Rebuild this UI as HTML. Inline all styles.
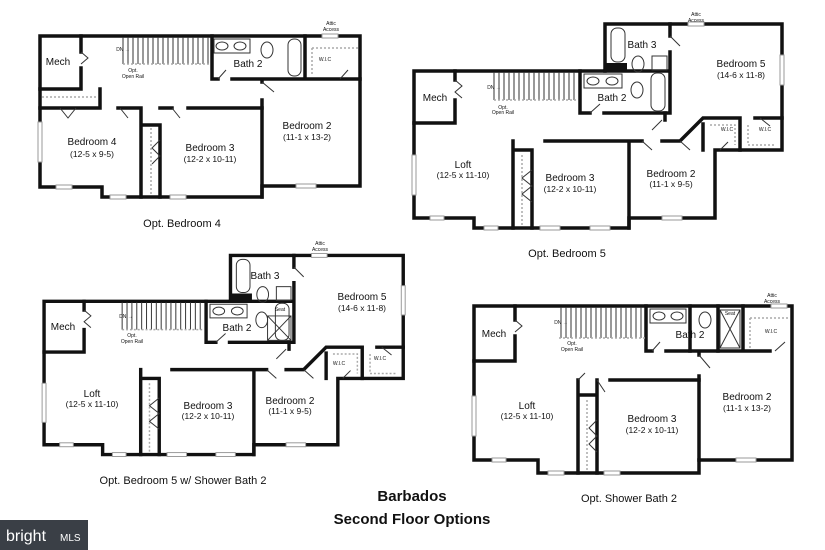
<!DOCTYPE html>
<html><head><meta charset="utf-8"><style>
html,body{margin:0;padding:0;background:#fff}
svg{display:block}
text{font-family:"Liberation Sans",sans-serif;fill:#111}
.w{fill:none;stroke:#111;stroke-width:3.5;stroke-linecap:square}
.t{fill:none;stroke:#333;stroke-width:1}
.g{fill:none;stroke:#aaa;stroke-width:1.5;stroke-dasharray:2 2}
.win{fill:#fff;stroke:#999;stroke-width:1}
.r{font-size:10px;text-anchor:middle}
.s{font-size:8.5px;text-anchor:middle}
.x{font-size:5px;text-anchor:middle}
</style></head><body>
<svg width="825" height="550" viewBox="0 0 825 550" xmlns="http://www.w3.org/2000/svg">
<defs>
<g id="stairs2">
<path class="t" d="M494,72 V100 M499,72V100 M504,72V100 M509,72V100 M514,72V100 M519,72V100 M524,72V100 M529,72V100 M534,72V100 M539,72V100 M544,72V100 M549,72V100 M554,72V100 M559,72V100 M564,72V100 M569,72V100 M574,72V100"/>
<path class="g" d="M494,100 H578"/>
</g>
<g id="plan2">
<path class="w" d="M414,218 V71 H605 V24 H782 V150 H715 V218 H629 V228 H474 V218 Z"/>
<path class="w" d="M580,71 V113 H590 M604,113 H670 V52 M670,24 V36 M605,71 H670"/>
<rect x="605" y="63" width="22" height="8" fill="#111"/>
<path class="w" d="M455,71 V80 M455,100 V123 H414"/>
<path class="w" d="M513,141 V228 M532,150 V228 M513,150 H532 M545,141 H629 V228 M629,141 H642 M662,141 H680 L703,118 H740 M755,118 H782 M740,118 V150 M703,124 V150 M665,113 V120"/>
<path class="g" d="M710,125 H735 V145 M748,125 V145 H775"/>
<path class="g" d="M522,155 V225"/>
<path class="t" d="M455,80 L462,86 L455,92 L462,98 M532,170 L522,178 L532,186 L522,194 L532,202 M590,113 L600,104 M642,141 L652,150 M662,120 L652,130 M680,141 L690,150 M720,150 L728,142 M760,118 L770,126 M670,36 L680,46"/>
<rect x="584" y="74" width="38" height="14" class="t"/>
<ellipse cx="593" cy="81" rx="6" ry="4" class="t"/><ellipse cx="612" cy="81" rx="6" ry="4" class="t"/>
<rect x="651" y="73" width="14" height="38" rx="6" class="t"/>
<rect x="611" y="28" width="14" height="34" rx="6" class="t"/>
<ellipse cx="638" cy="64" rx="6" ry="8" class="t"/>
<rect x="652" y="56" width="15" height="14" class="t"/>
<ellipse cx="637" cy="90" rx="6" ry="8" class="t"/>
<use href="#stairs2"/>
<rect x="412" y="155" width="4" height="40" class="win"/>
<rect x="780" y="55" width="4" height="30" class="win"/>
<rect x="430" y="216" width="14" height="4" class="win"/>
<rect x="484" y="226" width="14" height="4" class="win"/>
<rect x="540" y="226" width="20" height="4" class="win"/>
<rect x="590" y="226" width="20" height="4" class="win"/>
<rect x="662" y="216" width="20" height="4" class="win"/>
<rect x="688" y="22" width="16" height="4" class="win"/>
</g>
</defs>

<!-- Plan 1 -->
<path class="w" d="M40,36 H360 V186 H262 V197 H102 V187 H40 Z"/>
<path class="w" d="M212,36 V79 H218 M232,79 H305 V36 M305,79 H360 M262,79 V82 M262,100 V197"/>
<path class="w" d="M81,36 V52 M81,68 V89 H40 M40,108 H100 M100,89 V108 M118,108 H141 V197 M141,125 H160 V197 M160,108 H172 M188,108 H262"/>
<path class="g" d="M42,97 H98 M151,128 V195 M312,48 H358 M312,48 V76"/>
<path class="t" d="M81,52 L88,58 L81,64 M160,140 L152,148 L160,156 L152,164 M218,79 L226,70 M262,82 L274,92 M340,79 L348,70 M60,108 L68,118 L76,108 M120,108 L128,118 M172,108 L180,118"/>
<path class="t" d="M123,37 V64 M128,37V64 M133,37V64 M138,37V64 M143,37V64 M148,37V64 M153,37V64 M158,37V64 M163,37V64 M168,37V64 M173,37V64 M178,37V64 M183,37V64 M188,37V64 M193,37V64 M198,37V64 M203,37V64 M208,37V64"/>
<path class="g" d="M123,64 H210"/>
<rect x="214" y="39" width="36" height="14" class="t"/>
<ellipse cx="222" cy="46" rx="6" ry="4" class="t"/><ellipse cx="240" cy="46" rx="6" ry="4" class="t"/>
<ellipse cx="267" cy="50" rx="6" ry="8" class="t"/>
<rect x="288" y="39" width="13" height="37" rx="6" class="t"/>
<rect x="38" y="122" width="4" height="40" class="win"/>
<rect x="56" y="185" width="16" height="4" class="win"/>
<rect x="110" y="195" width="16" height="4" class="win"/>
<rect x="170" y="195" width="16" height="4" class="win"/>
<rect x="296" y="184" width="20" height="4" class="win"/>
<rect x="322" y="34" width="16" height="4" class="win"/>
<text x="58" y="65" class="r">Mech</text>
<text x="248" y="67" class="r">Bath 2</text>
<text x="325" y="61" class="x">W.I.C</text>
<text x="123" y="51" class="x">DN →</text>
<text x="133" y="72" class="x">Opt.</text><text x="133" y="78" class="x">Open Rail</text>
<text x="331" y="25" class="x">Attic</text><text x="331" y="31" class="x">Access</text>
<text x="92" y="145" class="r">Bedroom 4</text><text x="92" y="157" class="s">(12-5 x 9-5)</text>
<text x="210" y="151" class="r">Bedroom 3</text><text x="210" y="162" class="s">(12-2 x 10-11)</text>
<text x="307" y="129" class="r">Bedroom 2</text><text x="307" y="140" class="s">(11-1 x 13-2)</text>
<text x="182" y="227" style="font-size:11px;text-anchor:middle">Opt. Bedroom 4</text>

<!-- Plan 2 -->
<use href="#plan2"/>
<text x="435" y="101" class="r">Mech</text>
<text x="642" y="48" class="r">Bath 3</text>
<text x="612" y="101" class="r">Bath 2</text>
<text x="741" y="67" class="r">Bedroom 5</text><text x="741" y="78" class="s">(14-6 x 11-8)</text>
<text x="727" y="131" class="x">W.I.C</text><text x="765" y="131" class="x">W.I.C</text>
<text x="494" y="89" class="x">DN →</text>
<text x="503" y="109" class="x">Opt.</text><text x="503" y="114" class="x">Open Rail</text>
<text x="696" y="16" class="x">Attic</text><text x="696" y="22" class="x">Access</text>
<text x="463" y="168" class="r">Loft</text><text x="463" y="178" class="s">(12-5 x 11-10)</text>
<text x="570" y="181" class="r">Bedroom 3</text><text x="570" y="192" class="s">(12-2 x 10-11)</text>
<text x="671" y="177" class="r">Bedroom 2</text><text x="671" y="187" class="s">(11-1 x 9-5)</text>
<text x="567" y="257" style="font-size:11px;text-anchor:middle">Opt. Bedroom 5</text>

<!-- Plan 3 -->
<g transform="matrix(0.976,0,0,0.976,-360,232)">
<use href="#plan2"/>
<path class="t" d="M643,86 H667 V111 H643 Z M643,86 L667,111 M667,86 L643,111"/>
</g>
<text x="63" y="330" class="r">Mech</text>
<text x="265" y="279" class="r">Bath 3</text>
<text x="237" y="331" class="r">Bath 2</text>
<text x="362" y="300" class="r">Bedroom 5</text><text x="362" y="311" class="s">(14-6 x 11-8)</text>
<text x="339" y="365" class="x">W.I.C</text><text x="380" y="360" class="x">W.I.C</text>
<text x="280" y="311" class="x">Seat</text>
<text x="126" y="318" class="x">DN →</text>
<text x="132" y="337" class="x">Opt.</text><text x="132" y="343" class="x">Open Rail</text>
<text x="320" y="245" class="x">Attic</text><text x="320" y="251" class="x">Access</text>
<text x="92" y="397" class="r">Loft</text><text x="92" y="407" class="s">(12-5 x 11-10)</text>
<text x="208" y="409" class="r">Bedroom 3</text><text x="208" y="419" class="s">(12-2 x 10-11)</text>
<text x="290" y="404" class="r">Bedroom 2</text><text x="290" y="414" class="s">(11-1 x 9-5)</text>
<text x="183" y="484" style="font-size:11px;text-anchor:middle">Opt. Bedroom 5 w/ Shower Bath 2</text>

<!-- Plan 4 -->
<path class="w" d="M474,306 H792 V460 H699 V473 H538 V460 H474 Z"/>
<path class="w" d="M646,306 V351 H652 M666,351 H743 V306 M743,351 H770 M699,351 V355 M699,376 V460"/>
<path class="w" d="M515,306 V320 M515,336 V361 H474 M578,380 V473 M597,380 V473 M578,395 H597 M610,380 H699"/>
<path class="w" d="M690,306 V351 M718,306 V351"/>
<path class="g" d="M750,318 H790 M750,318 V348 M587,400 V470"/>
<path class="t" d="M515,320 L522,326 L515,332 M597,420 L589,428 L597,436 L589,444 L597,452 M652,351 L660,342 M699,355 L710,368 M775,351 L785,342 M597,380 L605,392 M578,380 L585,373 M720,310 H740 V348 H720 Z M720,310 L740,348 M740,310 L720,348"/>
<path class="t" d="M561,307 V338 M566,307V338 M571,307V338 M576,307V338 M581,307V338 M586,307V338 M591,307V338 M596,307V338 M601,307V338 M606,307V338 M611,307V338 M616,307V338 M621,307V338 M626,307V338 M631,307V338 M636,307V338 M641,307V338"/>
<path class="g" d="M559,338 H646"/>
<rect x="650" y="309" width="36" height="14" class="t"/>
<ellipse cx="659" cy="316" rx="6" ry="4" class="t"/><ellipse cx="677" cy="316" rx="6" ry="4" class="t"/>
<ellipse cx="705" cy="320" rx="6" ry="8" class="t"/>
<rect x="472" y="396" width="4" height="40" class="win"/>
<rect x="492" y="458" width="14" height="4" class="win"/>
<rect x="548" y="471" width="16" height="4" class="win"/>
<rect x="604" y="471" width="16" height="4" class="win"/>
<rect x="736" y="458" width="20" height="4" class="win"/>
<rect x="771" y="304" width="16" height="4" class="win"/>
<text x="494" y="337" class="r">Mech</text>
<text x="690" y="338" class="r">Bath 2</text>
<text x="730" y="315" class="x">Seat</text>
<text x="771" y="333" class="x">W.I.C</text>
<text x="561" y="324" class="x">DN →</text>
<text x="572" y="345" class="x">Opt.</text><text x="572" y="351" class="x">Open Rail</text>
<text x="772" y="297" class="x">Attic</text><text x="772" y="303" class="x">Access</text>
<text x="527" y="409" class="r">Loft</text><text x="527" y="419" class="s">(12-5 x 11-10)</text>
<text x="652" y="422" class="r">Bedroom 3</text><text x="652" y="433" class="s">(12-2 x 10-11)</text>
<text x="747" y="400" class="r">Bedroom 2</text><text x="747" y="411" class="s">(11-1 x 13-2)</text>
<text x="629" y="502" style="font-size:11px;text-anchor:middle">Opt. Shower Bath 2</text>

<text x="412" y="501" style="font-size:15px;font-weight:bold;text-anchor:middle">Barbados</text>
<text x="412" y="524" style="font-size:15px;font-weight:bold;text-anchor:middle">Second Floor Options</text>

<rect x="0" y="520" width="88" height="30" fill="#3a3f46"/>
<text x="6" y="541" style="font-size:16px;fill:#fff">bright</text>
<text x="60" y="541" style="font-size:10px;fill:#fff">MLS</text>
</svg>
</body></html>
